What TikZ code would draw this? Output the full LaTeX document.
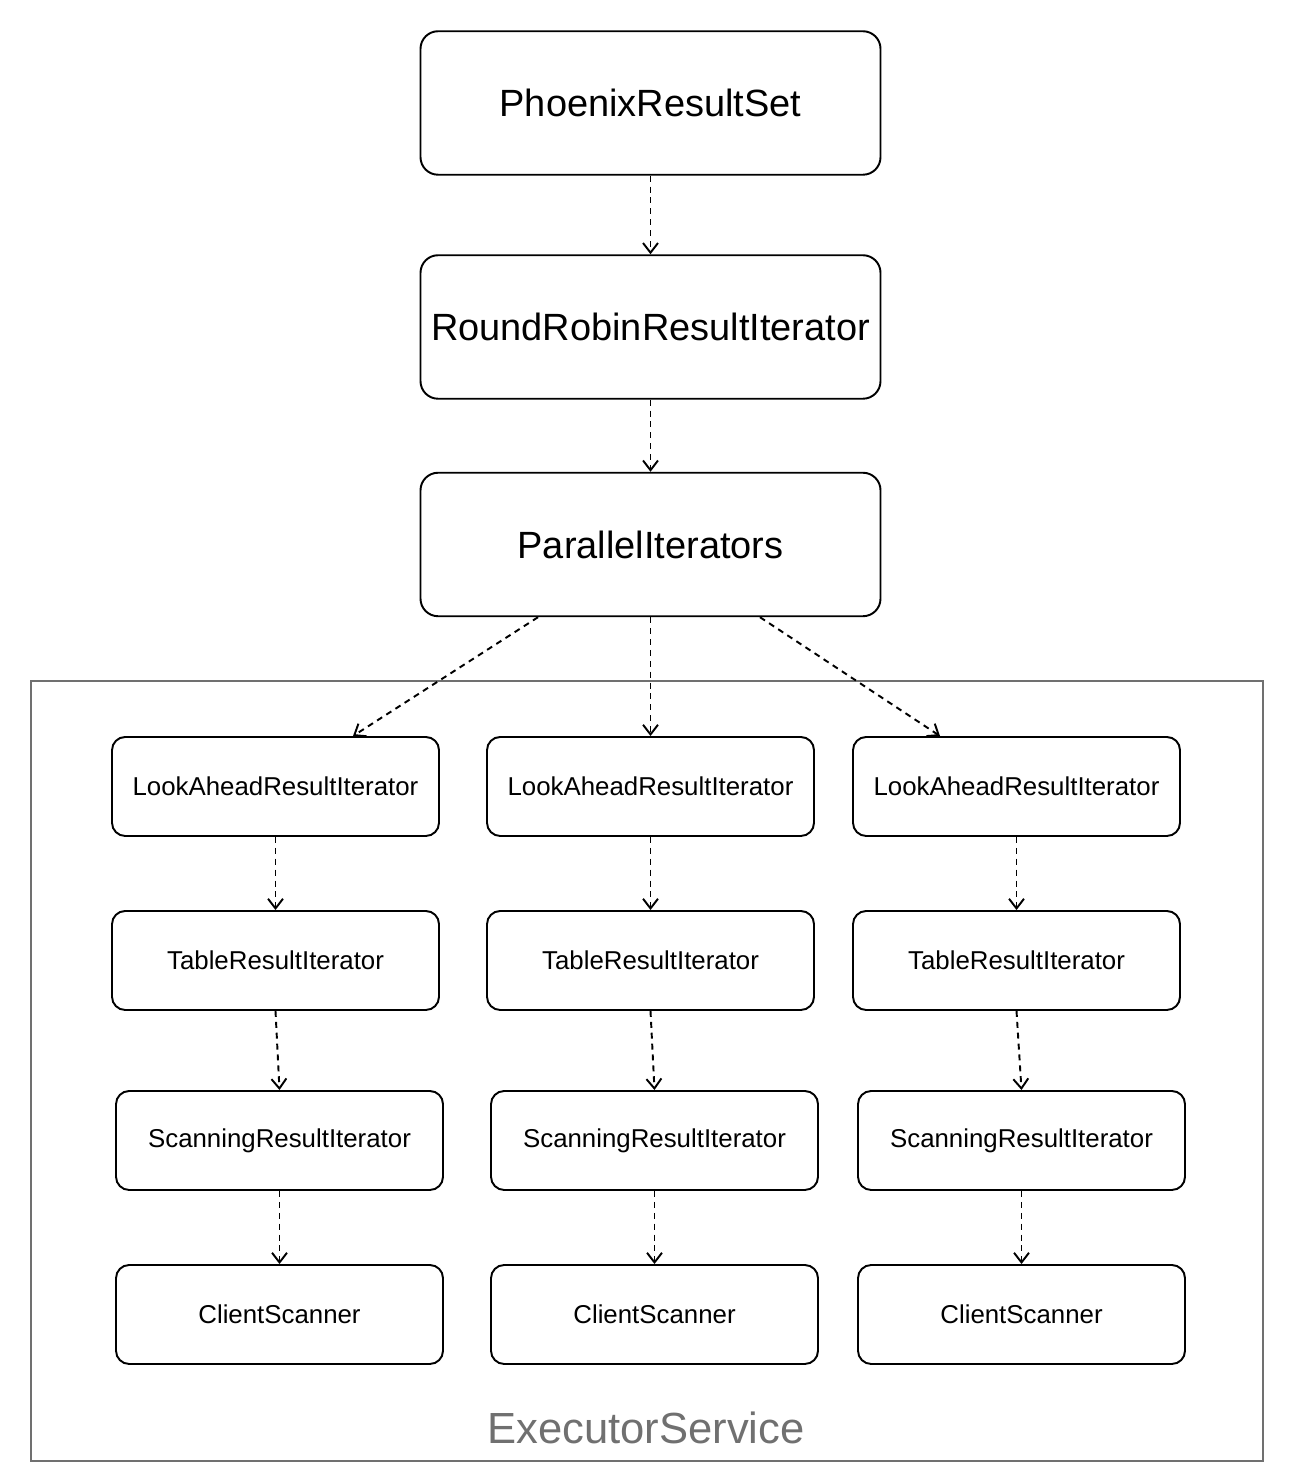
\documentclass[tikz,border=0pt]{standalone}
\usepackage{fontspec}
\setmainfont{Liberation Sans}
\usepackage{tikz}
\usetikzlibrary{arrows.meta}
\usetikzlibrary{calc}

\definecolor{poolgray}{HTML}{707070}

\begin{document}
\begin{tikzpicture}[line width=1.1pt,
        big_node_style/.style={draw=black,rounded corners=10pt,minimum width=9.2cm,minimum height=2.87cm,inner sep=0pt,font=\fontsize{21.6}{24}\selectfont},
        small_node_style/.style={draw=black,rounded corners=7.5pt,minimum width=6.54cm,minimum height=1.98cm,inner sep=0pt,font=\fontsize{14.7}{17}\selectfont},
        pool_style/.style={draw=poolgray,minimum width=24.64cm,minimum height=15.6cm,inner sep=0pt},
        edge_style/.style={draw=black,line width=1.1pt,dash pattern=on 3.4pt off 2.8pt,-{Straight Barb[length=5.5pt,width=8.5pt,line width=1.1pt]}}]

        \useasboundingbox (0,0) rectangle (25.96,29.68);

        \node [pool_style](pool) at (12.94,8.26) {};
        \node [text=poolgray,font=\fontsize{24.8}{28}\selectfont](poolname) at (12.92,1.12) {ExecutorService};

        \node [big_node_style](rs) at (13.01,27.62) {PhoenixResultSet};
        \node [big_node_style](rr) at (13.01,23.14) {RoundRobinResultIterator};
        \node [big_node_style](par) at (13.01,18.79) {ParallelIterators};

        \node [small_node_style](la1) at (5.51,13.95) {LookAheadResultIterator};
        \node [small_node_style](la2) at (13.01,13.95) {LookAheadResultIterator};
        \node [small_node_style](la3) at (20.33,13.95) {LookAheadResultIterator};
        \node [small_node_style](tr1) at (5.51,10.47) {TableResultIterator};
        \node [small_node_style](tr2) at (13.01,10.47) {TableResultIterator};
        \node [small_node_style](tr3) at (20.33,10.47) {TableResultIterator};
        \node [small_node_style](sr1) at (5.59,6.87) {ScanningResultIterator};
        \node [small_node_style](sr2) at (13.09,6.87) {ScanningResultIterator};
        \node [small_node_style](sr3) at (20.43,6.87) {ScanningResultIterator};
        \node [small_node_style](cs1) at (5.59,3.39) {ClientScanner};
        \node [small_node_style](cs2) at (13.09,3.39) {ClientScanner};
        \node [small_node_style](cs3) at (20.43,3.39) {ClientScanner};

        \draw [edge_style] (rs) -- (rr);
        \draw [edge_style] (rr) -- (par);
        \draw [edge_style] ([xshift=-2.25cm]par.south) -- ([xshift=1.55cm]la1.north);
        \draw [edge_style] (par) -- (la2);
        \draw [edge_style] ([xshift=2.19cm]par.south) -- ([xshift=-1.53cm]la3.north);
        \draw [edge_style] (la1) -- (tr1);
        \draw [edge_style] (la2) -- (tr2);
        \draw [edge_style] (la3) -- (tr3);
        \draw [edge_style] (tr1.south) -- (sr1.north);
        \draw [edge_style] (tr2.south) -- (sr2.north);
        \draw [edge_style] (tr3.south) -- (sr3.north);
        \draw [edge_style] (sr1) -- (cs1);
        \draw [edge_style] (sr2) -- (cs2);
        \draw [edge_style] (sr3) -- (cs3);
        \end{tikzpicture}
\end{document}
